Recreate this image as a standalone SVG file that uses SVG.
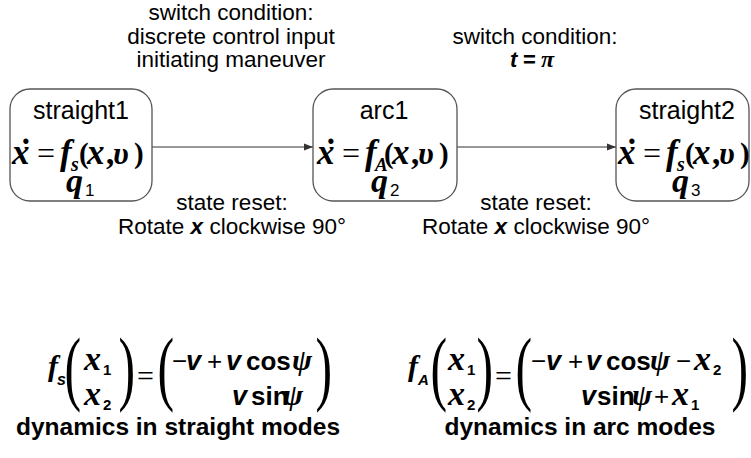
<svg xmlns="http://www.w3.org/2000/svg" width="751" height="458" viewBox="0 0 751 458">
<defs>
<style>
.lbl{font-family:"Liberation Sans",Arial,sans-serif;font-size:22.5px;fill:#000;text-anchor:middle}
.ttl{font-family:"Liberation Sans",Arial,sans-serif;font-size:25px;fill:#000;text-anchor:middle}
.cap{font-family:"Liberation Sans",Arial,sans-serif;font-size:24.5px;font-weight:bold;fill:#000;text-anchor:middle}
.mi{font-family:"Liberation Serif","Times New Roman",serif;font-weight:bold;font-style:italic;fill:#000}
.mb{font-family:"Liberation Serif","Times New Roman",serif;font-weight:bold;fill:#000}
.mr{font-family:"Liberation Serif","Times New Roman",serif;fill:#000}
.si{font-family:"Liberation Sans",Arial,sans-serif;font-weight:bold;font-style:italic;fill:#000}
.sb{font-family:"Liberation Sans",Arial,sans-serif;font-weight:bold;fill:#000}
.sr{font-family:"Liberation Sans",Arial,sans-serif;fill:#000}
.bp{font-family:"Liberation Serif","Times New Roman",serif;font-size:83px;fill:#000}
.box{fill:#fff;stroke:#555;stroke-width:1.3}
.edge{stroke:#333;stroke-width:1.2;fill:none;marker-end:url(#ah)}
</style>
<marker id="ah" markerUnits="userSpaceOnUse" markerWidth="9" markerHeight="8" refX="9" refY="4" orient="auto">
<path d="M0,0.5 L9,4 L0,7.5 z" fill="#333"/>
</marker>
<g id="eq">
<text class="mi" font-size="35" x="12" y="164">x</text>
<text class="mi" font-size="35" x="18" y="164">˙</text>
<text class="mr" font-size="32" x="37" y="164">=</text>
<text class="mi" font-size="35" x="60" y="164">f</text>
<text class="mb" font-size="29" x="79" y="163">(</text>
<text class="mi" font-size="35" x="87" y="164">x</text>
<text class="mb" font-size="33" x="106" y="164">,</text>
<text class="mi" font-size="32" x="113" y="164">υ</text>
<text class="mb" font-size="29" x="134" y="163">)</text>
</g>
</defs>

<g id="connectors">
<line class="edge" x1="152" y1="147" x2="313" y2="147"/>
<line class="edge" x1="457" y1="147" x2="616" y2="147"/>
</g>

<g id="straight1">
<rect class="box" x="10" y="89" width="142" height="112" rx="20" ry="20"/>
<text class="ttl" x="81" y="119">straight1</text>
<use href="#eq"/>
<text class="mi" font-size="20" x="71" y="171">s</text>
<text class="mi" font-size="34" x="66" y="192">q</text>
<text class="sr" font-size="17" x="85" y="196">1</text>
</g>

<g id="arc1">
<rect class="box" x="313" y="89" width="144" height="112" rx="20" ry="20"/>
<text class="ttl" x="384" y="119">arc1</text>
<use href="#eq" transform="translate(305,0)"/>
<text class="mi" font-size="19" x="375" y="171">A</text>
<text class="mi" font-size="34" x="371" y="192">q</text>
<text class="sr" font-size="17" x="390" y="196">2</text>
</g>

<g id="straight2">
<rect class="box" x="616" y="89" width="133" height="112" rx="20" ry="20"/>
<text class="ttl" x="687" y="119">straight2</text>
<use href="#eq" transform="translate(606,0)"/>
<text class="mi" font-size="20" x="677" y="171">s</text>
<text class="mi" font-size="34" x="672" y="192">q</text>
<text class="sr" font-size="17" x="691" y="196">3</text>
</g>

<g id="edge-labels">
<text class="lbl" x="231" y="20">switch condition:</text>
<text class="lbl" x="231" y="44">discrete control input</text>
<text class="lbl" x="231" y="67">initiating maneuver</text>
<text class="lbl" x="535" y="44">switch condition:</text>
<text y="67"><tspan class="si" font-size="22" x="510">t</tspan><tspan class="sb" font-size="22" x="523">=</tspan><tspan class="mi" font-size="24" x="541">π</tspan></text>
<text class="lbl" x="232" y="210">state reset:</text>
<text class="lbl" x="232" y="234">Rotate <tspan font-weight="bold" font-style="italic">x</tspan> clockwise 90°</text>
<text class="lbl" x="536" y="210">state reset:</text>
<text class="lbl" x="536" y="234">Rotate <tspan font-weight="bold" font-style="italic">x</tspan> clockwise 90°</text>
</g>

<g id="formula-straight">
<text class="mi" font-size="30" x="48" y="376">f</text>
<text class="si" font-size="16" x="57" y="385">s</text>
<text class="bp" transform="translate(64.6,395) scale(0.6,1)">(</text>
<text class="mi" font-size="34" x="84" y="370">x</text>
<text class="sb" font-size="15" x="103" y="375">1</text>
<text class="mi" font-size="34" x="84" y="405">x</text>
<text class="sb" font-size="15" x="103" y="410">2</text>
<text class="bp" transform="translate(118.6,395) scale(0.6,1)">)</text>
<text class="mr" font-size="30" x="137" y="386">=</text>
<text class="bp" transform="translate(157.6,395) scale(0.6,1)">(</text>
<text y="370"><tspan class="sr" font-size="26" x="172">−</tspan><tspan class="si" font-size="27" x="186">v</tspan><tspan class="sr" font-size="26" x="207">+</tspan><tspan class="si" font-size="27" x="226">v</tspan><tspan class="sb" font-size="26" x="246">cos</tspan><tspan class="mi" font-size="30" x="292">ψ</tspan></text>
<text y="405"><tspan class="si" font-size="27" x="232">v</tspan><tspan class="sb" font-size="26" x="251">sin</tspan><tspan class="mi" font-size="30" x="283">ψ</tspan></text>
<text class="bp" transform="translate(315.6,395) scale(0.6,1)">)</text>
<text class="cap" x="178" y="435">dynamics in straight modes</text>
</g>

<g id="formula-arc">
<text class="mi" font-size="30" x="408" y="376">f</text>
<text class="si" font-size="15" x="418" y="385">A</text>
<text class="bp" transform="translate(430.6,395) scale(0.6,1)">(</text>
<text class="mi" font-size="34" x="448" y="370">x</text>
<text class="sb" font-size="15" x="467" y="375">1</text>
<text class="mi" font-size="34" x="448" y="405">x</text>
<text class="sb" font-size="15" x="467" y="410">2</text>
<text class="bp" transform="translate(476.6,395) scale(0.6,1)">)</text>
<text class="mr" font-size="30" x="495" y="386">=</text>
<text class="bp" transform="translate(515.6,395) scale(0.6,1)">(</text>
<text y="370"><tspan class="sr" font-size="26" x="531">−</tspan><tspan class="si" font-size="27" x="546">v</tspan><tspan class="sr" font-size="26" x="568">+</tspan><tspan class="si" font-size="27" x="586">v</tspan><tspan class="sb" font-size="26" x="606">cos</tspan><tspan class="mi" font-size="30" x="650">ψ</tspan><tspan class="sr" font-size="26" x="676">−</tspan><tspan class="mi" font-size="34" x="694">x</tspan></text>
<text class="sb" font-size="15" x="713" y="375">2</text>
<text y="405"><tspan class="si" font-size="27" x="581">v</tspan><tspan class="sb" font-size="26" x="597">sin</tspan><tspan class="mi" font-size="30" x="632">ψ</tspan><tspan class="sr" font-size="26" x="654">+</tspan><tspan class="mi" font-size="34" x="672">x</tspan></text>
<text class="sb" font-size="15" x="691" y="410">1</text>
<text class="bp" transform="translate(731.6,395) scale(0.6,1)">)</text>
<text class="cap" x="580" y="435">dynamics in arc modes</text>
</g>
</svg>
